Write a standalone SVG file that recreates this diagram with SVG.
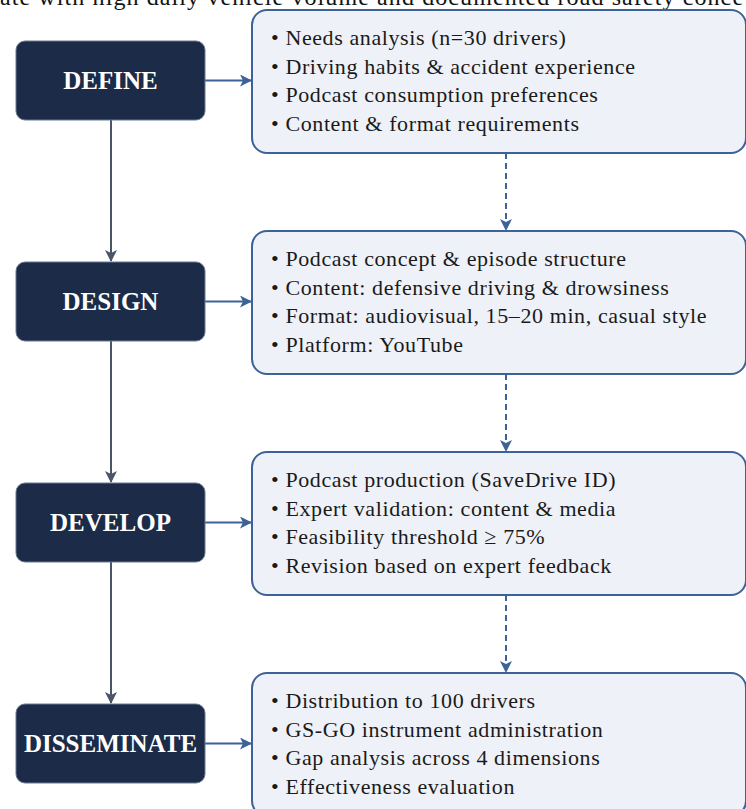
<svg xmlns="http://www.w3.org/2000/svg" width="746" height="809" viewBox="0 0 746 809">
<defs>
<style>
.node rect{fill:#1b2b48;stroke:#6b7a90;stroke-width:1}
.node text{fill:#ffffff;font-family:"Liberation Serif","Times New Roman",serif;font-weight:bold;font-size:25px;text-anchor:middle}
.box rect{fill:#eef1f7;stroke:#3d6298;stroke-width:2}
.box text{fill:#1a1a1a;font-family:"Liberation Serif","Times New Roman",serif;font-size:22px;letter-spacing:0.6px}
.vline{stroke:#4a5568;stroke-width:2;fill:none}
.hline{stroke:#3d6298;stroke-width:2;fill:none}
.dline{stroke:#3d6298;stroke-width:2;fill:none;stroke-dasharray:6,4}
.top{fill:#111;font-family:"Liberation Serif","Times New Roman",serif;font-size:24px;letter-spacing:1.1px}
</style>
<marker id="ag" viewBox="0 0 12 12" refX="11" refY="6" markerWidth="12" markerHeight="12" markerUnits="userSpaceOnUse" orient="auto">
<path d="M0,0 L12,6 L0,12 L3,6 Z" fill="#4a5568"/>
</marker>
<marker id="ab" viewBox="0 0 12 12" refX="11" refY="6" markerWidth="12" markerHeight="12" markerUnits="userSpaceOnUse" orient="auto">
<path d="M0,0 L12,6 L0,12 L3,6 Z" fill="#3d6298"/>
</marker>
</defs>
<rect width="746" height="809" fill="#ffffff"/>
<text class="top" x="0" y="5">ate with high daily vehicle volume and documented road safety conce</text>

<g id="connectors">
<line class="vline" x1="111" y1="120" x2="111" y2="261" marker-end="url(#ag)"/>
<line class="vline" x1="111" y1="341" x2="111" y2="482" marker-end="url(#ag)"/>
<line class="vline" x1="111" y1="562" x2="111" y2="703" marker-end="url(#ag)"/>
<line class="hline" x1="205" y1="80.5" x2="251" y2="80.5" marker-end="url(#ab)"/>
<line class="hline" x1="205" y1="301.5" x2="251" y2="301.5" marker-end="url(#ab)"/>
<line class="hline" x1="205" y1="522.5" x2="251" y2="522.5" marker-end="url(#ab)"/>
<line class="hline" x1="205" y1="743.5" x2="251" y2="743.5" marker-end="url(#ab)"/>
<line class="dline" x1="506" y1="153" x2="506" y2="230" marker-end="url(#ab)"/>
<line class="dline" x1="506" y1="374" x2="506" y2="451" marker-end="url(#ab)"/>
<line class="dline" x1="506" y1="595" x2="506" y2="672" marker-end="url(#ab)"/>
</g>

<g id="define" class="node"><rect x="16" y="41" width="189" height="79" rx="9"/><text x="110.5" y="89">DEFINE</text></g>
<g id="design" class="node"><rect x="16" y="262" width="189" height="79" rx="9"/><text x="110.5" y="310">DESIGN</text></g>
<g id="develop" class="node"><rect x="16" y="483" width="189" height="79" rx="9"/><text x="110.5" y="531">DEVELOP</text></g>
<g id="disseminate" class="node"><rect x="16" y="704" width="189" height="79" rx="9"/><text x="110.5" y="752">DISSEMINATE</text></g>

<g id="define-details" class="box"><rect x="252" y="10" width="494" height="143" rx="15"/>
<text x="271" y="45">• Needs analysis (n=30 drivers)</text>
<text x="271" y="73.5">• Driving habits &amp; accident experience</text>
<text x="271" y="102">• Podcast consumption preferences</text>
<text x="271" y="130.5">• Content &amp; format requirements</text></g>

<g id="design-details" class="box"><rect x="252" y="231" width="494" height="143" rx="15"/>
<text x="271" y="266">• Podcast concept &amp; episode structure</text>
<text x="271" y="294.5">• Content: defensive driving &amp; drowsiness</text>
<text x="271" y="323">• Format: audiovisual, 15–20 min, casual style</text>
<text x="271" y="351.5">• Platform: YouTube</text></g>

<g id="develop-details" class="box"><rect x="252" y="452" width="494" height="143" rx="15"/>
<text x="271" y="487">• Podcast production (SaveDrive ID)</text>
<text x="271" y="515.5">• Expert validation: content &amp; media</text>
<text x="271" y="544">• Feasibility threshold ≥ 75%</text>
<text x="271" y="572.5">• Revision based on expert feedback</text></g>

<g id="disseminate-details" class="box"><rect x="252" y="673" width="494" height="143" rx="15"/>
<text x="271" y="708">• Distribution to 100 drivers</text>
<text x="271" y="736.5">• GS-GO instrument administration</text>
<text x="271" y="765">• Gap analysis across 4 dimensions</text>
<text x="271" y="793.5">• Effectiveness evaluation</text></g>
</svg>
